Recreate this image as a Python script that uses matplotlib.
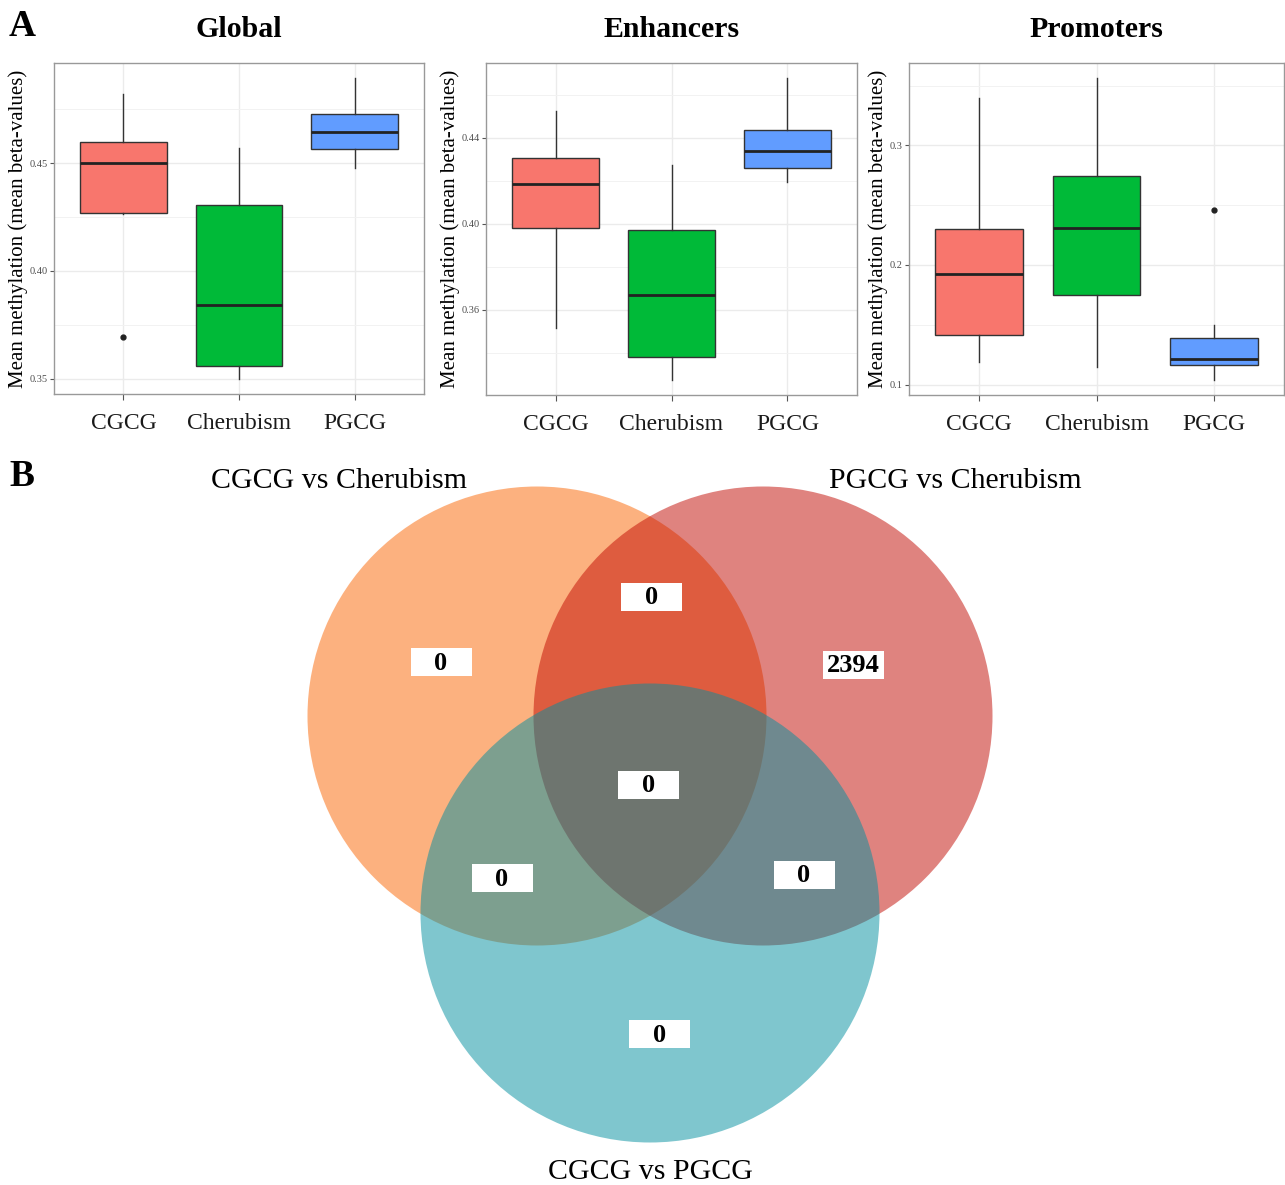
import matplotlib
matplotlib.use("Agg")
import matplotlib.pyplot as plt
from matplotlib.patches import Circle, Rectangle
from matplotlib.ticker import MultipleLocator

plt.rcParams["font.family"] = ["Liberation Serif", "DejaVu Serif"]

# ---- data -------------------------------------------------------------
categories = ["CGCG", "Cherubism", "PGCG"]
fill_colors = ["#F8766D", "#00BA38", "#619CFF"]

panel_titles = ["Global", "Enhancers", "Promoters"]

global_whislo = [0.4262, 0.3499, 0.4475]
global_q1 = [0.4270, 0.3557, 0.4563]
global_med = [0.4500, 0.3840, 0.4645]
global_q3 = [0.4599, 0.4304, 0.4729]
global_whishi = [0.4818, 0.4568, 0.4894]
global_fliers = [[0.3693], [], []]

enh_whislo = [0.3515, 0.3273, 0.4197]
enh_q1 = [0.3980, 0.3382, 0.4258]
enh_med = [0.4187, 0.3667, 0.4339]
enh_q3 = [0.4307, 0.3970, 0.4436]
enh_whishi = [0.4527, 0.4275, 0.4679]
enh_fliers = [[], [], []]

prom_whislo = [0.1187, 0.1150, 0.1039]
prom_q1 = [0.1418, 0.1749, 0.1162]
prom_med = [0.1927, 0.2311, 0.1212]
prom_q3 = [0.2301, 0.2743, 0.1390]
prom_whishi = [0.3393, 0.3563, 0.1498]
prom_fliers = [[], [], [0.2457]]

y_major = [0.05, 0.04, 0.1]
y_fmt = ["{:.2f}", "{:.2f}", "{:.1f}"]

venn_sets = ["CGCG vs Cherubism", "PGCG vs Cherubism", "CGCG vs PGCG"]
venn_colors = ["#FB6500", "#C10900", "#008F9F"]
# region order: A only, A&B, B only, A&B&C, A&C, B&C, C only
venn_counts = [0, 0, 2394, 0, 0, 0, 0]

# ---- figure -------------------------------------------------------------
W, H = 1285, 1185
fig = plt.figure(figsize=(W / 100, H / 100), dpi=100)

# overlay axes in pixel coordinates for the venn diagram and panel letters
ov = fig.add_axes([0, 0, 1, 1])
ov.set_xlim(0, W)
ov.set_ylim(H, 0)
ov.axis("off")
ov.patch.set_alpha(0)

panels = [
    (global_whislo, global_q1, global_med, global_q3, global_whishi, global_fliers),
    (enh_whislo, enh_q1, enh_med, enh_q3, enh_whishi, enh_fliers),
    (prom_whislo, prom_q1, prom_med, prom_q3, prom_whishi, prom_fliers),
]
# pixel extents (left, right, top, bottom) of each plot panel
extents = [(54, 424, 63, 394), (486, 857, 63, 395), (909, 1284, 63, 395)]

for i, (stats_cols, ext) in enumerate(zip(panels, extents)):
    l, r, t, b = ext
    ax = fig.add_axes([l / W, 1 - b / H, (r - l) / W, (b - t) / H])
    whislo, q1, med, q3, whishi, fliers = stats_cols
    stats = []
    for j in range(len(categories)):
        stats.append(dict(whislo=whislo[j], q1=q1[j], med=med[j], q3=q3[j],
                          whishi=whishi[j], fliers=fliers[j], label=categories[j]))
    bp = ax.bxp(stats, positions=[1, 2, 3], widths=0.75, patch_artist=True,
                showcaps=False,
                boxprops=dict(edgecolor="#333333", linewidth=1.0),
                medianprops=dict(color="#222222", linewidth=2.0),
                whiskerprops=dict(color="#333333", linewidth=1.0),
                flierprops=dict(marker="o", markersize=3.5, markerfacecolor="#222222",
                                markeredgecolor="#222222"),
                zorder=3)
    for patch, c in zip(bp["boxes"], fill_colors):
        patch.set_facecolor(c)

    lo = min(min(whislo), min([min(f) for f in fliers if f] or [1]))
    hi = max(max(whishi), max([max(f) for f in fliers if f] or [0]))
    pad = (hi - lo) * 0.05
    ax.set_ylim(lo - pad, hi + pad)
    ax.set_xlim(0.4, 3.6)

    ax.yaxis.set_major_locator(MultipleLocator(y_major[i]))
    ax.yaxis.set_minor_locator(MultipleLocator(y_major[i] / 2))
    fmt = y_fmt[i]
    ax.yaxis.set_major_formatter(plt.FuncFormatter(lambda v, p, f=fmt: f.format(v)))
    ax.set_xticks([1, 2, 3])
    ax.set_xticklabels(categories, fontsize=17, color="#1A1A1A")
    ax.tick_params(axis="y", labelsize=7.5, labelcolor="#4D4D4D", length=3,
                   width=0.8, color="#555555", pad=1.5)
    ax.tick_params(axis="y", which="minor", length=0)
    ax.tick_params(axis="x", length=4, width=0.8, color="#555555", pad=10)

    ax.grid(True, which="major", color="#EBEBEB", linewidth=1.0, zorder=0)
    ax.grid(True, which="minor", axis="y", color="#F2F2F2", linewidth=0.7, zorder=0)
    ax.set_axisbelow(True)
    for s in ax.spines.values():
        s.set_color("#999999")
        s.set_linewidth(1.0)

    ax.set_ylabel("Mean methylation (mean beta-values)", fontsize=15, labelpad=1)
    ax.set_title(panel_titles[i], fontsize=21.5, fontweight="bold", pad=19)

# panel letters
ov.text(22, 26, "A", fontsize=27, fontweight="bold", ha="center", va="center")
ov.text(22, 476, "B", fontsize=27, fontweight="bold", ha="center", va="center")

# ---- venn diagram -------------------------------------------------------
circle_centers = [(537, 716), (763, 716), (650, 913)]
radius = 229.5
for (cx, cy), col in zip(circle_centers, venn_colors):
    ov.add_patch(Circle((cx, cy), radius, facecolor=col, edgecolor="none", alpha=0.5))

set_label_pos = [(339, 481), (955, 481), (650, 1172)]
for name, (x, y) in zip(venn_sets, set_label_pos):
    ov.text(x, y, name, fontsize=21.5, ha="center", va="center")

count_pos = [(441, 662), (651.5, 597), (853.5, 664.5), (648.5, 785),
             (502, 878), (804, 875), (659.5, 1034)]
bw, bh = 61, 28
for n, (x, y) in zip(venn_counts, count_pos):
    ov.add_patch(Rectangle((x - bw / 2, y - bh / 2), bw, bh, facecolor="white",
                           edgecolor="none"))
    ov.text(x, y + 1, str(n), fontsize=19, fontweight="bold", ha="center", va="center")

fig.savefig("out.png", dpi=100)
